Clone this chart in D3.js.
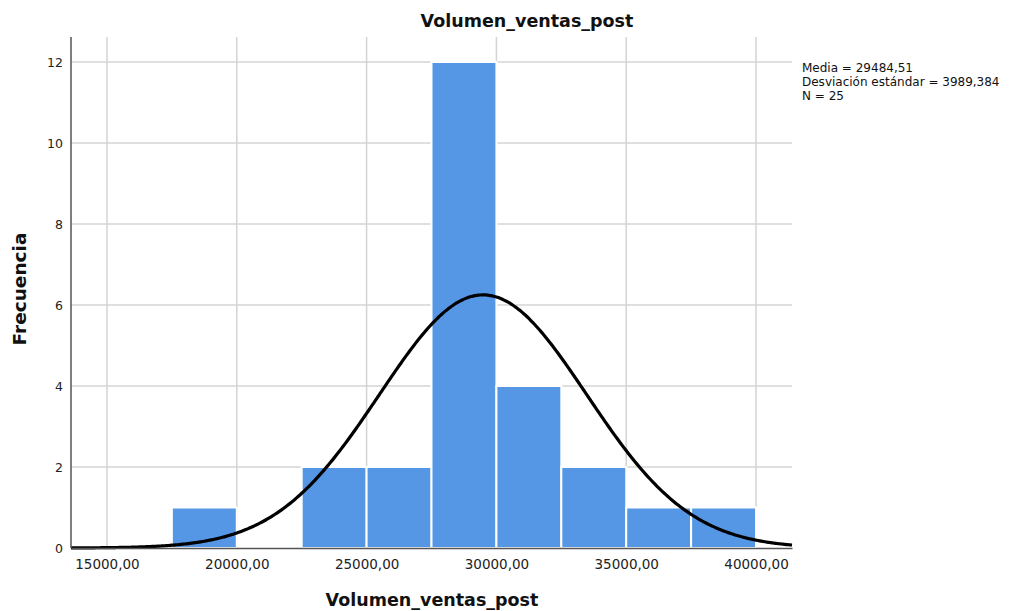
<!DOCTYPE html>
<html><head><meta charset="utf-8">
<script src="https://cdn.jsdelivr.net/npm/d3@7/dist/d3.min.js"></script>
<style>body{margin:0;background:#fff;} svg{display:block;}</style>
</head><body>
<svg id="c" width="1029" height="611"></svg>
<script>
const binStarts = [17500, 20000, 22500, 25000, 27500, 30000, 32500, 35000, 37500];
const counts = [1, 0, 2, 2, 12, 4, 2, 1, 1];
const binWidth = 2500;
const xTicks = [15000, 20000, 25000, 30000, 35000, 40000];
const yTicks = [0, 2, 4, 6, 8, 10, 12];
const mean = 29484.51, sd = 3989.384, n = 25;
const statLines = ["Media = 29484,51", "Desviación estándar = 3989,384", "N = 25"];

const svg = d3.select("#c");
const L = 71, R = 792, T = 37, B = 548;
const font = "'DejaVu Sans', sans-serif";
const x = d3.scaleLinear().domain([13615, 41385]).range([L, R]);
const y = d3.scaleLinear().domain([0, 12]).range([B, 62]);

// grid
svg.append("g").selectAll("line").data(xTicks).join("line")
  .attr("x1", d => x(d)).attr("x2", d => x(d)).attr("y1", T).attr("y2", B)
  .attr("stroke", "#d4d4d4").attr("stroke-width", 1.5);
svg.append("g").selectAll("line").data(yTicks.filter(d => d > 0)).join("line")
  .attr("x1", L).attr("x2", R).attr("y1", d => y(d)).attr("y2", d => y(d))
  .attr("stroke", "#d4d4d4").attr("stroke-width", 1.5);

// bars
svg.append("g").selectAll("rect").data(binStarts.map((s, i) => ({s, c: counts[i]})).filter(d => d.c > 0)).join("rect")
  .attr("x", d => x(d.s)).attr("width", d => x(d.s + binWidth) - x(d.s))
  .attr("y", d => y(d.c)).attr("height", d => y(0) - y(d.c))
  .attr("fill", "#5596e5").attr("stroke", "#ffffff").attr("stroke-width", 2);

// normal curve
const k = n * binWidth / (sd * Math.sqrt(2 * Math.PI));
const pts = d3.range(0, 401).map(i => {
  const v = 13615 + (41385 - 13615) * i / 400;
  return [v, k * Math.exp(-0.5 * ((v - mean) / sd) ** 2)];
});
svg.append("path").datum(pts)
  .attr("d", d3.line().x(d => x(d[0])).y(d => y(d[1])).curve(d3.curveBasis))
  .attr("fill", "none").attr("stroke", "#000").attr("stroke-width", 3.2);

// axes
const xa = svg.append("g").attr("transform", `translate(0,${B})`)
  .call(d3.axisBottom(x).tickValues(xTicks).tickSize(0).tickPadding(11)
    .tickFormat(d => d3.format(".2f")(d).replace(".", ",")));
xa.select(".domain").attr("stroke", "#555").attr("stroke-width", 1.5);
xa.selectAll("text").attr("font-family", font).attr("font-size", 13.5).attr("fill", "#222");
const ya = svg.append("g").attr("transform", `translate(${L},0)`)
  .call(d3.axisLeft(y).tickValues(yTicks).tickSize(0).tickPadding(8));
ya.select(".domain").attr("d", `M0,${T}V${B}`).attr("stroke", "#555").attr("stroke-width", 1.5);
ya.selectAll("text").attr("font-family", font).attr("font-size", 12.5).attr("fill", "#222");

// titles
svg.append("text").attr("x", 527).attr("y", 27).attr("text-anchor", "middle")
  .attr("font-family", font).attr("font-weight", "bold").attr("font-size", 17.5).attr("fill", "#111")
  .text("Volumen_ventas_post");
svg.append("text").attr("x", 432).attr("y", 606).attr("text-anchor", "middle")
  .attr("font-family", font).attr("font-weight", "bold").attr("font-size", 17.5).attr("fill", "#111")
  .text("Volumen_ventas_post");
svg.append("text").attr("transform", "translate(26,289) rotate(-90)").attr("text-anchor", "middle")
  .attr("font-family", font).attr("font-weight", "bold").attr("font-size", 18.5).attr("fill", "#111")
  .text("Frecuencia");

// stats
svg.append("g").selectAll("text").data(statLines).join("text")
  .attr("x", 802).attr("y", (d, i) => 72 + i * 14)
  .attr("font-family", font).attr("font-size", 12).attr("fill", "#111")
  .text(d => d);
</script>
</body></html>
